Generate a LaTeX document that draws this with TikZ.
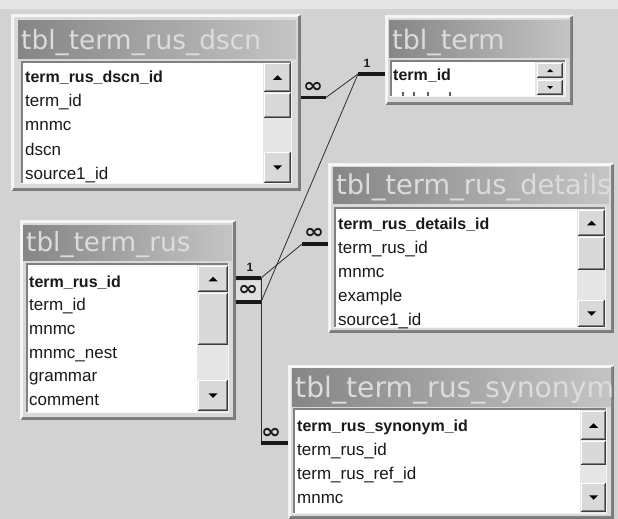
\documentclass[tikz,border=0pt]{standalone}
\usepackage{fontspec}
\setmainfont{Liberation Sans}
\newfontfamily\titlefont{DejaVu Sans}
\newfontfamily\symfont{DejaVu Sans}
\usetikzlibrary{calc}

\definecolor{bgc}{RGB}{210,210,210}
\definecolor{topband}{RGB}{230,230,230}
\definecolor{facec}{RGB}{217,217,217}
\definecolor{hilite}{RGB}{246,246,246}
\definecolor{shadowc}{RGB}{128,128,128}
\definecolor{darkc}{RGB}{60,60,60}
\definecolor{titleL}{RGB}{134,134,134}
\definecolor{titleR}{RGB}{196,196,196}
\definecolor{titletext}{RGB}{220,220,220}
\definecolor{trackc}{RGB}{230,230,230}
\definecolor{fieldc}{RGB}{25,25,25}
\definecolor{barc}{RGB}{25,25,25}
\definecolor{linkc}{RGB}{45,45,45}
\definecolor{labelbox}{RGB}{224,224,224}

% window frame of a table: left, top, right, bottom
\newcommand\accframe[4]{%
  \fill[facec] (#1,#2) rectangle (#3,#4);
  \draw[hilite, line width=1.2pt] (#1+2,#4-2) -- (#1+2,#2+2) -- (#3-2,#2+2);
  \draw[shadowc, line width=1.2pt] (#1+2,#4-2) -- (#3-2,#4-2) -- (#3-2,#2+2);
  \draw[darkc!70, line width=1pt] (#1,#4-.5) -- (#3-.5,#4-.5) -- (#3-.5,#2);
  \draw[white!90!gray, line width=1pt] (#1+.5,#4) -- (#1+.5,#2+.5) -- (#3,#2+.5);
}
% caption bar: left, top, right, bottom, text, font size, node name
\newcommand\acctitle[7]{%
  \begin{scope}
    \clip (#1,#2) rectangle (#3,#4);
    \shade[left color=titleL, right color=titleR] (#1,#2) rectangle (#3,#4);
    \node[ttl, font=\titlefont\fontsize{#6}{#6}\selectfont] (#7) at (#1+3,#4-9) {#5};
  \end{scope}
}
% sunken list box: left, top, right, bottom, scrollbar left
\newcommand\acclist[5]{%
  \fill[white] (#1,#2) rectangle (#5,#4);
  \fill[trackc] (#5,#2) rectangle (#3,#4);
  \draw[shadowc, line width=1.6pt] (#1+.8,#4) -- (#1+.8,#2+.8) -- (#3,#2+.8);
  \draw[hilite, line width=1pt] (#1,#4-.5) -- (#3-.5,#4-.5) -- (#3-.5,#2);
}
% raised scrollbar button: left, top, right, bottom
\newcommand\accbtn[4]{%
  \fill[facec] (#1,#2) rectangle (#3,#4);
  \draw[white] (#1+.5,#4-1) -- (#1+.5,#2+.5) -- (#3-1,#2+.5);
  \draw[shadowc] (#1+1,#4-1.5) -- (#3-1.5,#4-1.5) -- (#3-1.5,#2+1);
  \draw[darkc] (#1,#4-.5) -- (#3-.5,#4-.5) -- (#3-.5,#2);
}
% arrow glyphs: centre x, centre y, half width
\newcommand\uptri[3]{\fill[black] (#1-#3,#2+#3/2) -- (#1+#3,#2+#3/2) -- (#1,#2-#3/2) -- cycle;}
\newcommand\dntri[3]{\fill[black] (#1-#3,#2-#3/2) -- (#1+#3,#2-#3/2) -- (#1,#2+#3/2) -- cycle;}

\begin{document}
\begin{tikzpicture}[x=1pt, y=-1pt,
  field/.style={anchor=base west, inner sep=0pt, text=fieldc, font=\fontsize{17}{17}\selectfont},
  keyfield/.style={anchor=base west, inner sep=0pt, text=fieldc, font=\bfseries\fontsize{16}{16}\selectfont},
  ttl/.style={anchor=base west, inner sep=0pt, text=titletext},
  bar/.style={line width=3.4pt, draw=barc},
  link/.style={line width=0.8pt, draw=linkc},
  many/.style={inner sep=0pt, text=barc, font=\symfont\bfseries\fontsize{20}{20}\selectfont},
  one/.style={inner sep=0pt, text=barc, font=\bfseries\fontsize{12}{12}\selectfont}]
\useasboundingbox (0,0) rectangle (618,519);
\fill[bgc] (0,0) rectangle (618,519);
\fill[topband] (0,0) rectangle (618,9);

% ---------------- tbl_term_rus_dscn ----------------
\accframe{11}{14}{301}{191}
\acctitle{18}{21}{296}{59}{tbl\_term\_rus\_dscn}{26.4}{a-title}
\acclist{21}{61}{292}{184}{263}
\accbtn{264}{63}{291}{92}\uptri{277.5}{77.5}{4.5}
\accbtn{264}{93}{291}{118}
\accbtn{264}{152}{291}{183}\dntri{277.5}{167.5}{4.5}
\node[keyfield] (a-key) at (25,82) {term\_rus\_dscn\_id};
\node[field] (a-f2) at (25,106.3) {term\_id};
\node[field] (a-f3) at (25,130.6) {mnmc};
\node[field] (a-f4) at (25,155) {dscn};
\node[field] (a-f5) at (25,179.3) {source1\_id};

% ---------------- tbl_term ----------------
\accframe{385}{15}{573}{105}
\acctitle{389}{21}{570}{58}{tbl\_term}{26.9}{b-title}
\acclist{390}{60}{566}{97}{535}
\accbtn{537}{63}{563}{78}\uptri{550}{70.5}{3}
\accbtn{537}{80}{563}{95}\dntri{550}{87.5}{3}
\node[keyfield] (b-key) at (393,81) {term\_id};
\foreach \mx in {403,414,428,450}
  \fill[fieldc!70] (\mx-.7,92) rectangle (\mx+.7,95.5);

% ---------------- tbl_term_rus_details ----------------
\accframe{328}{163}{614}{333}
\acctitle{333}{167}{609}{203}{tbl\_term\_rus\_details}{27.3}{c-title}
\acclist{334}{207}{606}{328}{577}
\accbtn{578}{210}{605}{236}\uptri{591.5}{223}{4.5}
\accbtn{578}{237}{605}{270}
\accbtn{578}{300}{605}{327}\dntri{591.5}{313.5}{4.5}
\node[keyfield] (c-key) at (338,229) {term\_rus\_details\_id};
\node[field] (c-f2) at (338,253) {term\_rus\_id};
\node[field] (c-f3) at (338,277) {mnmc};
\node[field] (c-f4) at (338,301) {example};
\node[field] (c-f5) at (338,325) {source1\_id};

% ---------------- tbl_term_rus ----------------
\accframe{20}{220}{236}{420}
\acctitle{23}{225}{232}{260}{tbl\_term\_rus}{26.3}{d-title}
\acclist{26}{263}{229}{413}{197}
\accbtn{198}{266}{228}{292}\uptri{213}{279}{4.5}
\accbtn{198}{293}{228}{345}
\accbtn{198}{380}{228}{411}\dntri{213}{395.5}{4.5}
\node[keyfield] (d-key) at (29,287) {term\_rus\_id};
\node[field] (d-f2) at (29,310.7) {term\_id};
\node[field] (d-f3) at (29,334.4) {mnmc};
\node[field] (d-f4) at (29,358.1) {mnmc\_nest};
\node[field] (d-f5) at (29,381.8) {grammar};
\node[field] (d-f6) at (29,405.5) {comment};

% ---------------- tbl_term_rus_synonym ----------------
\accframe{288}{365}{614}{519}
\acctitle{292}{368}{611}{406}{tbl\_term\_rus\_synonym}{28.2}{e-title}
\acclist{293}{408}{607}{514}{580}
\accbtn{581}{411}{606}{440}\uptri{593.5}{425.5}{4.5}
\accbtn{581}{441}{606}{465}
\accbtn{581}{483}{606}{512}\dntri{593.5}{497.5}{4.5}
\node[keyfield] (e-key) at (297,431) {term\_rus\_synonym\_id};
\node[field] (e-f2) at (297,455) {term\_rus\_id};
\node[field] (e-f3) at (297,479) {term\_rus\_ref\_id};
\node[field] (e-f4) at (297,503) {mnmc};

% ---------------- relationship ends ----------------
\coordinate (a-bar-l) at (301,97.5);
\coordinate (a-bar-r) at (326,97.5);
\coordinate (b-bar-l) at (358,74);
\coordinate (b-bar-r) at (385,74);
\coordinate (c-bar-l) at (302,244);
\coordinate (c-bar-r) at (328,244);
\coordinate (d-one-l) at (236,278);
\coordinate (d-one-r) at (261,278);
\coordinate (d-many-l) at (236,302);
\coordinate (d-many-r) at (261,302);
\coordinate (e-bar-l) at (261,443);
\coordinate (e-bar-r) at (288,443);

\node[many, fill=labelbox, minimum width=24pt, minimum height=19pt] (d-many) at (248,290.5) {\scalebox{1.2}[1]{∞}};

% relationship lines
\draw[link] (a-bar-r) -- (b-bar-l);
\draw[link] (d-many-r) -- (b-bar-l);
\draw[link] (d-one-r) -- (c-bar-l);
\draw[link] (d-one-r) -- (e-bar-l);

% key bars at the table edges
\draw[bar] (a-bar-l) -- (a-bar-r);
\draw[bar] (b-bar-l) -- (b-bar-r);
\draw[bar] (c-bar-l) -- (c-bar-r);
\draw[bar] (d-one-l) -- (d-one-r);
\draw[bar] (d-many-l) -- (d-many-r);
\draw[bar] (e-bar-l) -- (e-bar-r);

% cardinality marks
\node[many] (a-many) at (313,87) {\scalebox{1.2}[1]{∞}};
\node[many] (c-many) at (314,233.5) {\scalebox{1.2}[1]{∞}};
\node[many] (e-many) at (271,433) {\scalebox{1.2}[1]{∞}};
\node[one] (b-one) at (367,63.5) {1};
\node[one] (d-one) at (250,267) {1};
\end{tikzpicture}
\end{document}
